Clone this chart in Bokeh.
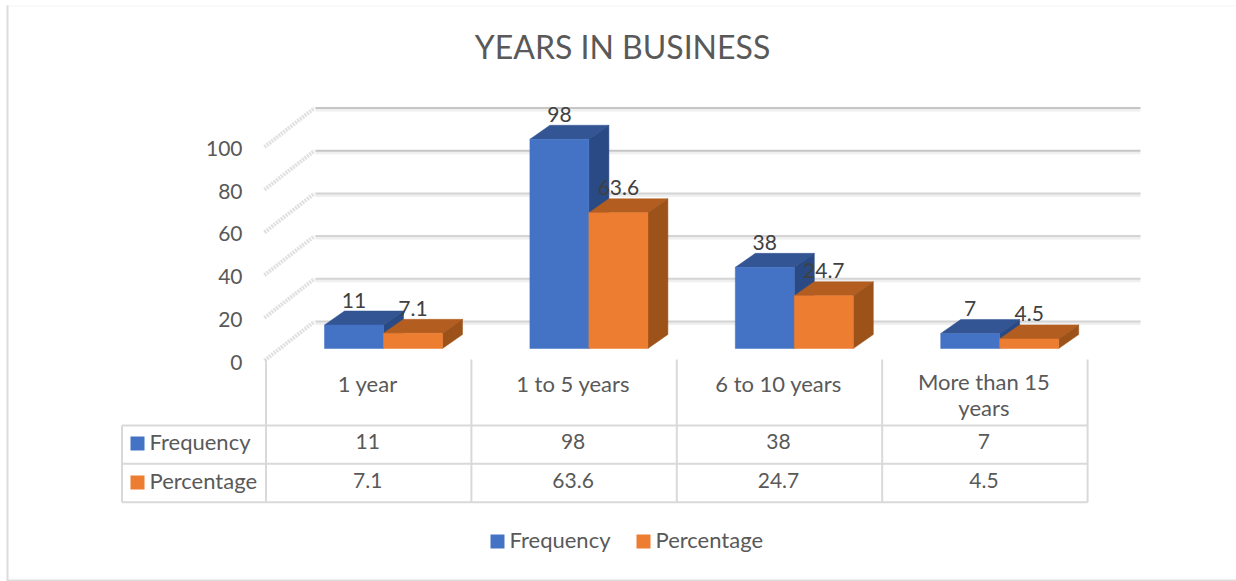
from bokeh.plotting import figure
from bokeh.models import Range1d, LinearAxis, FixedTicker
from bokeh.core.properties import value
from bokeh.embed import file_html
from bokeh.resources import INLINE

title = "YEARS IN BUSINESS"
categories = ["1 year", "1 to 5 years", "6 to 10 years", "More than 15\nyears"]
frequency = [11, 98, 38, 7]
percentage = [7.1, 63.6, 24.7, 4.5]
frequency_labels = ["11", "98", "38", "7"]
percentage_labels = ["7.1", "63.6", "24.7", "4.5"]
series_names = ["Frequency", "Percentage"]
axis_ticks = [0, 20, 40, 60, 80, 100]

W, H = 1236, 581
FONT = value("Lato")
BLUE, BLUE_TOP, BLUE_SIDE = "#4472C4", "#335593", "#2A4A85"
ORANGE, ORANGE_TOP, ORANGE_SIDE = "#ED7D31", "#B35E20", "#9C5219"
GRID = "#D9D9D9"
TXT = "#595959"

# image pixels <-> data: category units and value units
X0, XU = 265.5, 205.4
Y0, YU = 348.0, 2.135
def px(x): return (x - X0) / XU
def py(y): return (Y0 - y) / YU

p = figure(width=W, height=H, output_backend="svg", toolbar_location=None,
           x_range=Range1d(px(0), px(W)), y_range=Range1d(py(H), py(0)),
           x_axis_type=None, y_axis_type=None, min_border=0, outline_line_color=None)
p.grid.visible = False

# chart frame: strong left and bottom edges, faint top edge, no right edge
p.line([px(7), px(W)], [py(5.5)] * 2, line_color="#F3F3F3", line_width=1)
p.line([px(7), px(7)], [py(5), py(580)], line_color="#DCDCDC", line_width=2)
p.line([px(6), px(W)], [py(580)] * 2, line_color="#DCDCDC", line_width=2)

# walls
FRONT_DV, BACK_DV = py(360), py(321)
for t in axis_ticks:
    yb = t + BACK_DV
    dark = "#C6C6C6" if t >= 80 else "#D4D4D4"
    p.line([px(315), px(1140)], [yb - 2 / YU] * 2, line_color="#EFEFEF", line_width=3)
    p.line([px(315), px(1140)], [yb] * 2, line_color=dark, line_width=2)
    p.line([px(264), px(314)], [t + FRONT_DV, yb], line_color="#E0E0E0", line_width=4, line_dash="2 1")

# bars
BAR = 59 / XU
START = 58.5 / XU
DX, DY = 20 / XU, 14 / YU
for shift, vals, c, ct, cs in [(0, frequency, BLUE, BLUE_TOP, BLUE_SIDE),
                               (1, percentage, ORANGE, ORANGE_TOP, ORANGE_SIDE)]:
    for i, v in enumerate(vals):
        l = i + START + shift * BAR
        r = l + BAR
        p.patch([l, r, r + DX, l + DX], [v, v, v + DY, v + DY], fill_color=ct, line_color=ct, line_width=0.5)
        p.patch([r, r + DX, r + DX, r], [0, DY, v + DY, v], fill_color=cs, line_color=cs, line_width=0.5)
        p.quad(left=[l], right=[r], bottom=[0], top=[v], fill_color=c, line_color=c, line_width=0.5)

# data labels
centers = [i + START + BAR / 2 for i in range(4)]
p.text(centers, [v + DY for v in frequency], text=frequency_labels, text_align="center", text_baseline="middle",
       y_offset=-11, text_font=FONT, text_font_size="21px", text_color="#404040")
p.text([c + BAR for c in centers], [v + DY for v in percentage], text=percentage_labels, text_align="center",
       text_baseline="middle", y_offset=-11, text_font=FONT, text_font_size="21px", text_color="#404040")

# data table
ROW = [py(425), py(463.3), py(501.7)]
COLS = [0, 1, 2, 3, 4]
p.multi_line([[px(121.5), 4]] * 3, [[r, r] for r in ROW], line_color=GRID, line_width=2)
p.multi_line([[px(121.5), px(121.5)]], [[ROW[0], ROW[2]]], line_color=GRID, line_width=2)
p.multi_line([[c, c] for c in COLS], [[py(359), ROW[2]]] * 5, line_color=GRID, line_width=2)

cat_x = [i + 0.5 - 1 / XU for i in range(4)]
p.text(cat_x, [py(383), py(383), py(383), py(394)], text=categories, text_align="center", text_baseline="middle",
       text_font=FONT, text_font_size="22px", text_color=TXT, text_line_height=0.98)
p.text(cat_x, [py(441)] * 4, text=frequency_labels, text_align="center", text_baseline="middle",
       text_font=FONT, text_font_size="21px", text_color=TXT)
p.text(cat_x, [py(480)] * 4, text=percentage_labels, text_align="center", text_baseline="middle",
       text_font=FONT, text_font_size="21px", text_color=TXT)

# legend keys in table and bottom legend
S = 14
for kx, ky, c, name, tx in [(130, 436, BLUE, series_names[0], 149), (130, 475, ORANGE, series_names[1], 149),
                            (490, 534, BLUE, series_names[0], 509), (636, 534, ORANGE, series_names[1], 655)]:
    p.quad(left=[px(kx)], right=[px(kx + S)], top=[py(ky)], bottom=[py(ky + S)], fill_color=c, line_color=None)
    p.text([px(tx)], [py(ky + S / 2 - 2)], text=[name], text_align="left", text_baseline="middle",
           text_font=FONT, text_font_size="22px", text_color=TXT)

# title
p.text([px(622)], [py(46)], text=[title], text_align="center", text_baseline="middle",
       text_font=FONT, text_font_size="32px", text_color=TXT)

# value axis on the front edge of the side wall
AXIS_DV = py(361.5)
p.extra_y_ranges["wall"] = Range1d(py(H) - AXIS_DV, py(0) - AXIS_DV)
ax = LinearAxis(y_range_name="wall", fixed_location=px(264), ticker=FixedTicker(ticks=axis_ticks),
                axis_line_color=None, major_tick_line_color=None, minor_tick_line_color=None,
                major_label_text_font="Lato", major_label_text_font_size="21px",
                major_label_text_color=TXT, major_label_standoff=16)
p.add_layout(ax, "left")

open("out.html", "w").write(file_html(p, INLINE))
